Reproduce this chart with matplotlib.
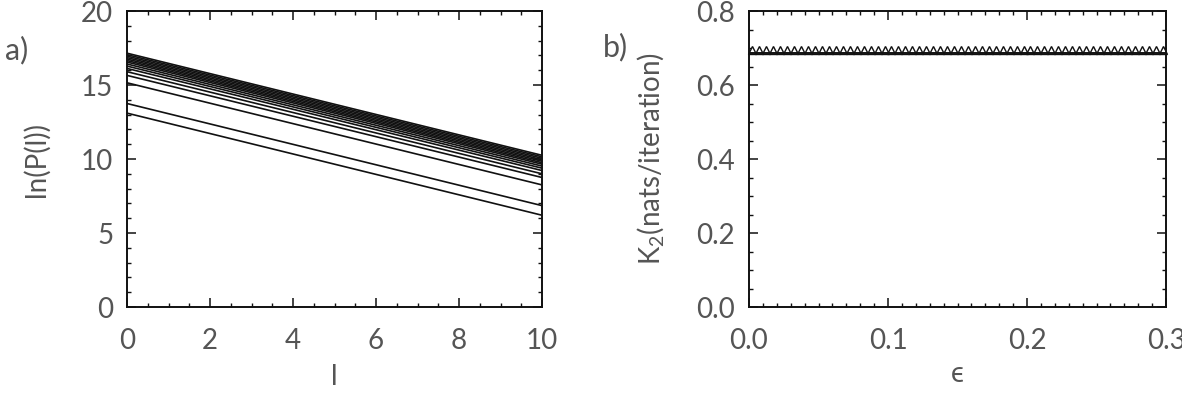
import matplotlib
matplotlib.use("Agg")
import matplotlib.pyplot as plt
from matplotlib.ticker import MultipleLocator
import numpy as np

# panel a) : straight lines ln(P(l)) vs l, given by their end values
l_ends = [0.0, 10.0]
lnP_at_0 = [17.15, 17.05, 16.95, 16.85, 16.75, 16.65, 16.55, 16.42,
            16.28, 16.12, 15.90, 15.65, 15.15, 13.75, 13.10]
lnP_at_10 = [10.25, 10.15, 10.05, 9.95, 9.85, 9.75, 9.65, 9.52,
             9.38, 9.22, 9.00, 8.75, 8.25, 6.85, 6.20]

# panel b) : K2 vs epsilon
eps = np.arange(60) * 0.005 + 0.0025
K2 = [0.694] * 60
K2_ref_x = [0.0, 0.3]
K2_ref = [0.686, 0.686]

txt = '#555555'
plt.rcParams['font.family'] = ['Lato', 'DejaVu Sans']
plt.rcParams['mathtext.fontset'] = 'custom'
plt.rcParams['mathtext.rm'] = 'Lato'
plt.rcParams['mathtext.default'] = 'regular'

W, H = 1182, 393
dpi = 100
fig = plt.figure(figsize=(W / dpi, H / dpi), dpi=dpi)

ax1 = fig.add_axes([127 / W, (H - 307) / H, 415 / W, 296 / H])
ax2 = fig.add_axes([749 / W, (H - 307) / H, 417 / W, 296 / H])

for a, b in zip(lnP_at_0, lnP_at_10):
    ax1.plot(l_ends, [a, b], color='#111111', lw=1.2)

ax2.plot(eps, K2, ls='none', marker='^', ms=6, mfc='white',
         mec='#111111', mew=1.0, clip_on=False)
ax2.plot(K2_ref_x, K2_ref, color='#111111', lw=1.4)

ax1.set_xlim(0, 10)
ax1.set_ylim(0, 20)
ax1.xaxis.set_major_locator(MultipleLocator(2))
ax1.xaxis.set_minor_locator(MultipleLocator(0.5))
ax1.yaxis.set_major_locator(MultipleLocator(5))
ax1.yaxis.set_minor_locator(MultipleLocator(1))

ax2.set_xlim(0, 0.3)
ax2.set_ylim(0, 0.8)
ax2.xaxis.set_minor_locator(MultipleLocator(0.01))
ax2.yaxis.set_minor_locator(MultipleLocator(0.05))
ax2.set_xticks([0.0, 0.1, 0.2, 0.3])
ax2.set_xticklabels(['0.0', '0.1', '0.2', '0.3'])
ax2.set_yticks([0.0, 0.2, 0.4, 0.6, 0.8])
ax2.set_yticklabels(['0.0', '0.2', '0.4', '0.6', '0.8'])

for ax in (ax1, ax2):
    for s in ax.spines.values():
        s.set_linewidth(1.4)
        s.set_color('#111111')
    ax.tick_params(which='both', direction='in', top=True, right=True,
                   color='#111111', labelcolor=txt, labelsize=20)
    ax.tick_params(which='major', length=6.5, width=1.1)
    ax.tick_params(which='minor', length=3, width=1.0)
    ax.tick_params(axis='x', which='both', pad=15)
    ax.tick_params(axis='y', which='both', pad=10)

ax1.set_ylabel('ln(P(l))', fontsize=20, color=txt)
ax1.yaxis.set_label_coords(-0.186, 0.5)
ax1.set_xlabel('l', fontsize=20, color=txt, va='center')
ax1.xaxis.set_label_coords(0.5, -0.236)

ax2.set_ylabel('K$_2$(nats/iteration)', fontsize=20, color=txt)
ax2.yaxis.set_label_coords(-0.20, 0.5)
ax2.set_xlabel('\u03f5', fontsize=20, color=txt, va='center')
ax2.xaxis.set_label_coords(0.5, -0.225)

fig.text(17 / W, 1 - 50 / H, 'a)', fontsize=22, color=txt,
         ha='center', va='center')
fig.text(615 / W, 1 - 47 / H, 'b)', fontsize=22, color=txt,
         ha='center', va='center')

fig.savefig('out.png', dpi=dpi)
